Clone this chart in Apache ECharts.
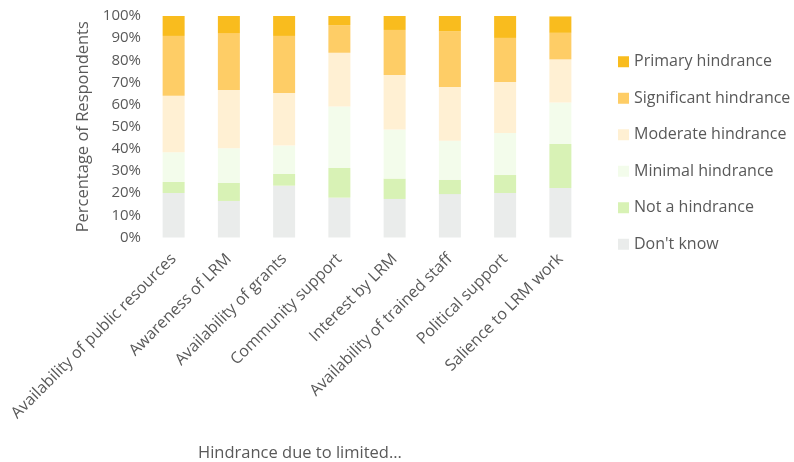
<!DOCTYPE html>
<html>
<head>
<meta charset="utf-8">
<script src="https://cdn.jsdelivr.net/npm/echarts@6/dist/echarts.min.js"></script>
<style>
  html, body { margin: 0; padding: 0; background: #fff; }
  #chart { width: 794px; height: 462px; }
</style>
</head>
<body>
<div id="chart"></div>
<script>
// Categories (hindrance due to limited ...)
var categories = [
  'Availability of public resources',
  'Awareness of LRM',
  'Availability of grants',
  'Community support',
  'Interest by LRM',
  'Availability of trained staff',
  'Political support',
  'Salience to LRM work'
];

// Percentage of respondents per response level
var dontKnow     = [20.1, 16.5, 23.4, 18.0, 17.4, 19.6, 20.1, 22.3];
var notHindrance = [5.0, 8.1, 5.3, 13.4, 9.2, 6.4, 8.1, 19.9];
var minimal      = [13.4, 15.7, 12.8, 27.7, 22.2, 17.7, 19.0, 18.8];
var moderate     = [25.5, 26.3, 23.7, 24.3, 24.6, 24.2, 23.0, 19.4];
var significant  = [27.0, 25.7, 25.8, 12.5, 20.3, 25.2, 19.9, 12.0];
var primary      = [9.0, 7.7, 9.0, 4.1, 6.3, 6.9, 9.9, 7.4];

var yTicks = [0, 10, 20, 30, 40, 50, 60, 70, 80, 90, 100];

var FONT = 'Open Sans';
var TEXT = '#595959';

var seriesDefs = [
  { name: "Don't know",           data: dontKnow,     color: '#EAECEB' },
  { name: 'Not a hindrance',      data: notHindrance, color: '#D8F2B5' },
  { name: 'Minimal hindrance',    data: minimal,      color: '#F3FCEB' },
  { name: 'Moderate hindrance',   data: moderate,     color: '#FFF0D3' },
  { name: 'Significant hindrance',data: significant,  color: '#FECD66' },
  { name: 'Primary hindrance',    data: primary,      color: '#F9BC1E' }
];

var chart = echarts.init(document.getElementById('chart'), null, { renderer: 'canvas' });

chart.setOption({
  animation: false,
  textStyle: { fontFamily: FONT },
  grid: { left: 146, right: 206, top: 16, bottom: 224.5, containLabel: false },
  legend: {
    orient: 'vertical',
    left: 613,
    top: 45.5,
    itemWidth: 11,
    itemHeight: 11,
    itemGap: 14,
    icon: 'rect',
    data: seriesDefs.map(function (s) { return s.name; }).reverse(),
    textStyle: { fontFamily: FONT, fontSize: 16, color: TEXT, lineHeight: 22.5 }
  },
  xAxis: {
    type: 'category',
    data: categories,
    axisLine: { show: false },
    axisTick: { show: false },
    axisLabel: {
      interval: 0,
      rotate: 45,
      margin: 19,
      fontFamily: FONT,
      fontSize: 16,
      color: TEXT
    }
  },
  yAxis: {
    type: 'value',
    min: 0,
    max: 100,
    interval: 10,
    splitLine: { show: false },
    axisLine: { show: false },
    axisTick: { show: false },
    axisLabel: {
      margin: 5,
      fontFamily: FONT,
      fontSize: 15,
      color: TEXT,
      formatter: function (v) { return yTicks.indexOf(v) >= 0 ? v + '%' : ''; }
    },
    name: 'Percentage of Respondents',
    nameLocation: 'middle',
    nameGap: 53,
    nameTextStyle: { fontFamily: FONT, fontSize: 16.5, color: TEXT }
  },
  graphic: [{
    type: 'text',
    left: 198,
    top: 445,
    style: { text: 'Hindrance due to limited...', font: '16.5px ' + FONT, fill: TEXT }
  }],
  series: seriesDefs.map(function (s) {
    return {
      name: s.name,
      type: 'bar',
      stack: 'total',
      barWidth: 22,
      data: s.data,
      itemStyle: { color: s.color },
      emphasis: { disabled: true }
    };
  })
});
</script>
</body>
</html>
